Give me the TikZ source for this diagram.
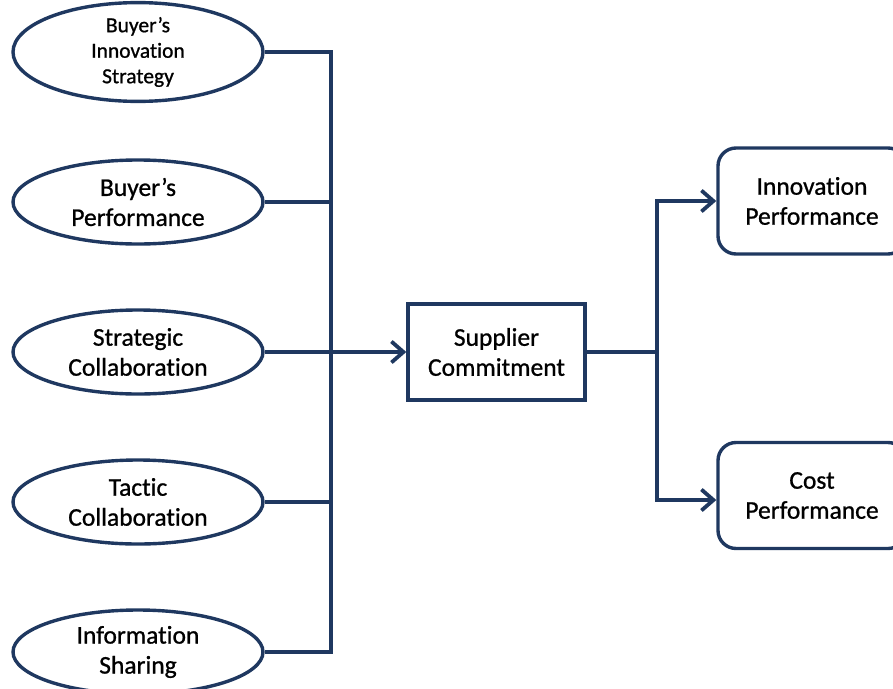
\documentclass[tikz,border=0pt]{standalone}
\usepackage{fontspec}
\setmainfont{Carlito}[Ligatures={NoCommon,NoRequired,NoContextual},FakeBold=0.9]
\usetikzlibrary{shapes.geometric,arrows.meta}
\definecolor{navy}{RGB}{31,56,96}
\begin{document}
\begin{tikzpicture}[x=1pt,y=-1pt,
  link/.style={draw=navy,line width=3.6pt,line join=miter},
  arr/.style={link,-{Straight Barb[length=12pt,width=21pt,line width=3.8pt]}},
  factor/.style={ellipse,draw=navy,line width=3.4pt,minimum width=250pt,minimum height=84pt,inner sep=0pt,
    align=center,font=\fontsize{25.5}{30}\selectfont},
  centerbox/.style={rectangle,draw=navy,line width=3.4pt,minimum width=177pt,minimum height=96pt,
    align=center,font=\fontsize{25.5}{30}\selectfont},
  outcome/.style={rectangle,rounded corners=18pt,draw=navy,line width=3.4pt,minimum width=188pt,minimum height=106pt,
    align=center,font=\fontsize{25.5}{30}\selectfont}]
\useasboundingbox (0,0) rectangle (893,688);

% antecedents
\node[factor,font=\fontsize{21.5}{25.5}\selectfont] (bis) at (138,52) {Buyer’s\\Innovation\\Strategy};
\node[factor] (bp) at (138,202) {Buyer’s\\Performance};
\node[factor] (sc) at (138,352) {Strategic\\Collaboration};
\node[factor] (tc) at (138,502) {Tactic\\Collaboration};
\node[factor] (is) at (138,652) {Information\\Sharing};

% mediator and outcomes
\node[centerbox] (sup) at (496.5,352) {Supplier\\Commitment};
\node[outcome] (ip) at (812,201) {Innovation\\Performance};
\node[outcome] (cp) at (812,495.5) {Cost\\Performance};

% bus on the left
\coordinate (btop) at (331,52);
\coordinate (bbot) at (331,652);
\draw[link] (bis.east) -- (btop) -- (bbot) -- (is.east);
\draw[link] (bp.east) -- (331,202);
\draw[link] (tc.east) -- (331,502);
\draw[arr] (sc.east) -- (sup.west);

% split on the right
\coordinate (split) at (657,352);
\draw[link] (sup.east) -- (split);
\draw[arr] (split) |- (ip.west);
\draw[arr] (split) |- ([yshift=-4.5pt]cp.west);
\end{tikzpicture}
\end{document}
